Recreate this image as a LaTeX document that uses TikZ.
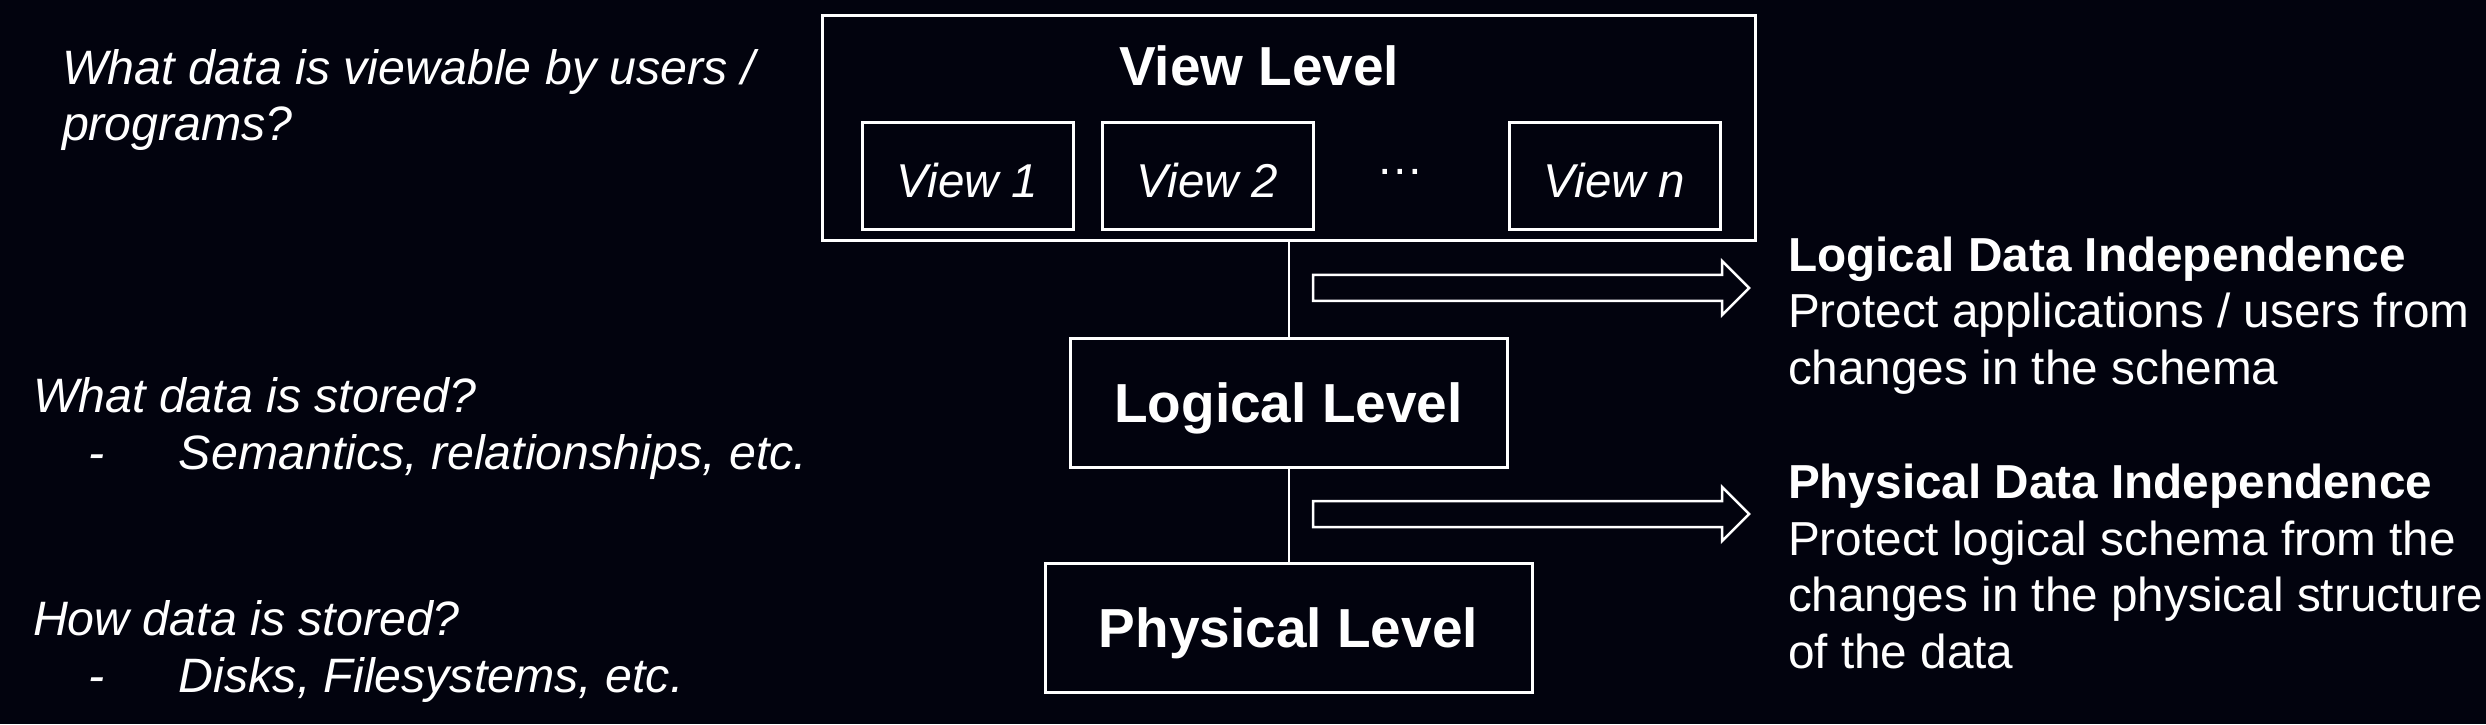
\documentclass[tikz,border=0pt]{standalone}
\usepackage{fontspec}
\setmainfont{Liberation Sans}
\usetikzlibrary{positioning}
\definecolor{slidebg}{RGB}{2,3,14}

\begin{document}
\begin{tikzpicture}[
    x=1pt, y=1pt,
    every node/.style={text=white, inner sep=0pt, outer sep=0pt},
    level/.style={draw=white, line width=3pt, align=center, minimum height=129pt,
        font=\fontsize{55}{66}\selectfont\bfseries, text height=40pt, text depth=0pt},
    viewbox/.style={draw=white, line width=3pt, minimum width=211pt, minimum height=107pt,
        font=\fontsize{47.5}{57}\selectfont\itshape, text height=43pt, text depth=0pt},
    note/.style={align=left, anchor=base west, font=\fontsize{47.7}{56.5}\selectfont},
    question/.style={note, font=\fontsize{48.3}{56.5}\selectfont\itshape},
    hollow/.style={draw=white, line width=2.5pt, line join=miter}
]
    \path[use as bounding box, fill=slidebg] (0,0) rectangle (2486,724);

    % the three levels
    \node (view) [level, minimum width=933pt, minimum height=225pt] at (1288.5,595.5) {};
    \node (viewtitle) [font=\fontsize{55}{66}\selectfont\bfseries, anchor=base west] at (1119,638) {View Level};
    \node (v1) [viewbox] at (967.5,547.5) {View 1};
    \node (v2) [viewbox, right=29pt of v1] {View 2};
    \node (vn) [viewbox, right=196pt of v2] {View n};
    \node (dots) [font=\fontsize{47.5}{57}\selectfont, anchor=base] at (1400,549) {…};

    \node (logical) [level, minimum width=437pt, below=97pt of view] {Logical Level};
    \node (physical) [level, minimum width=487pt, below=96pt of logical] {Physical Level};

    \draw[white, line width=2pt] (view.south) -- (logical.north);
    \draw[white, line width=2pt] (logical.south) -- (physical.north);

    % independence arrows
    \coordinate (ldi) at (1313,436);
    \coordinate (pdi) at (1313,210);
    \foreach \c in {ldi,pdi}
        \draw[hollow] (\c) ++(0,13) -- ++(409,0) -- ++(0,14) -- ++(27,-27)
            -- ++(-27,-27) -- ++(0,14) -- ++(-409,0) -- cycle;

    % base anchor sits on the last line
    \node (logicalnote) [note] at (1788,340) {\textbf{Logical Data Independence}\\Protect applications / users from\\changes in the schema};
    \node (physicalnote) [note] at (1788,56) {\textbf{Physical Data Independence}\\Protect logical schema from the\\changes in the physical structure\\of the data};

    % questions on the left
    \node (viewq) [question] at (62,583) {What data is viewable by users /\\programs?};
    \node (logicalq) [question] at (33,255) {What data is stored?\\\hspace*{55pt}\makebox[91pt][l]{-}Semantics, relationships, etc.};
    \node (physicalq) [question] at (33,32) {How data is stored?\\\hspace*{55pt}\makebox[91pt][l]{-}Disks, Filesystems, etc.};
\end{tikzpicture}
\end{document}
